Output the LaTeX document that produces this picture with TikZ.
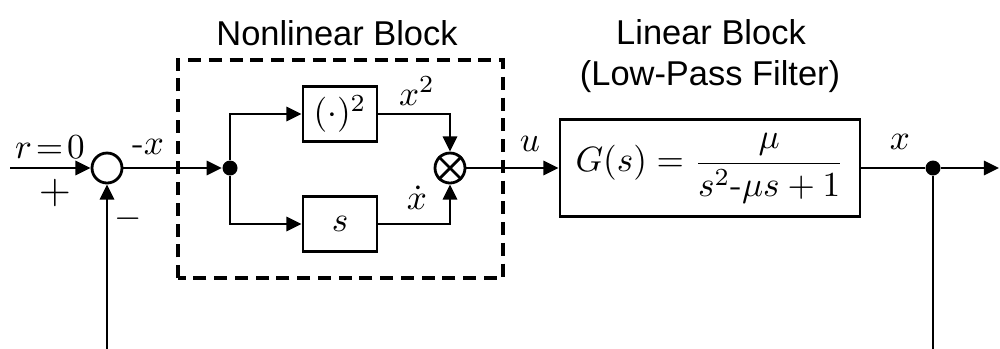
\documentclass[tikz,border=0pt]{standalone}
\usepackage{fontspec}
\usepackage{amsmath}
\newfontfamily\titlefont{Liberation Sans}
\usetikzlibrary{arrows.meta, positioning}

\begin{document}
\begin{tikzpicture}[
        block/.style={rectangle, draw, line width=0.8pt, minimum width=0.74cm, minimum height=0.55cm, inner sep=0pt},
        junction/.style={circle, draw, line width=0.8pt, minimum size=0.30cm, inner sep=0pt},
        dot/.style={circle, fill, minimum size=0.15cm, inner sep=0pt},
        title/.style={font=\titlefont\fontsize{9.8}{11.8}\selectfont},
        line/.style={line width=0.8pt},
        arr/.style={-{Triangle[length=4.3pt, width=4pt]}, line width=0.8pt}
    ]
        \clip (0,0) rectangle (10,3.48);

        % Comparateur
        \coordinate (in) at (0.10,1.80);
        \node[junction] (sum) at (1.07,1.80) {};
        \node at (0.50,2.01) {$r\!=\!0$};
        \node at (0.55,1.55) {\large$+$};
        \node at (1.48,2.01) {$\text{-}x$};
        \node at (1.28,1.29) {$-$};
        \draw[arr] (in) -- (sum);

        % Bloc non lineaire
        \draw[dashed, line width=1pt, dash pattern=on 3.7pt off 2.2pt] (1.78,0.70) rectangle (5.03,2.88);
        \node[title] at (3.37,3.15) {Nonlinear Block};
        \node[dot] (split) at (2.30,1.80) {};
        \node[block] (square) at (3.40,2.34) {$(\cdot)^2$};
        \node[block] (deriv) at (3.40,1.24) {$s$};
        \node[junction] (mult) at (4.50,1.80) {};
        \draw[line] (mult.north west) -- (mult.south east);
        \draw[line] (mult.north east) -- (mult.south west);
        \node at (4.17,2.57) {$x^2$};
        \node at (4.17,1.50) {$\dot{x}$};
        \draw[arr] (sum) -- (split);
        \draw[arr] (split) |- (square);
        \draw[arr] (split) |- (deriv);
        \draw[arr] (square) -| (mult);
        \draw[arr] (deriv) -| (mult);

        % Bloc lineaire
        \node[title] at (7.11,3.16) {Linear Block};
        \node[title] at (7.10,2.71) {(Low-Pass Filter)};
        \node[block, minimum width=3.00cm, minimum height=0.97cm] (plant) at (7.10,1.80)
            {$G(s)=\dfrac{\mu}{s^2\mbox{-}\mu s+1}$};
        \node at (5.30,2.04) {$u$};
        \draw[arr] (mult) -- (plant);

        % Sortie et retour
        \node[dot] (branch) at (9.33,1.80) {};
        \coordinate (out) at (9.99,1.80);
        \coordinate (fb) at (5.00,-0.05);
        \node at (9.00,2.06) {$x$};
        \draw[line] (plant) -- (branch);
        \draw[arr] (branch) -- (out);
        \draw[arr] (branch) |- (fb) -| (sum);
    \end{tikzpicture}
\end{document}
